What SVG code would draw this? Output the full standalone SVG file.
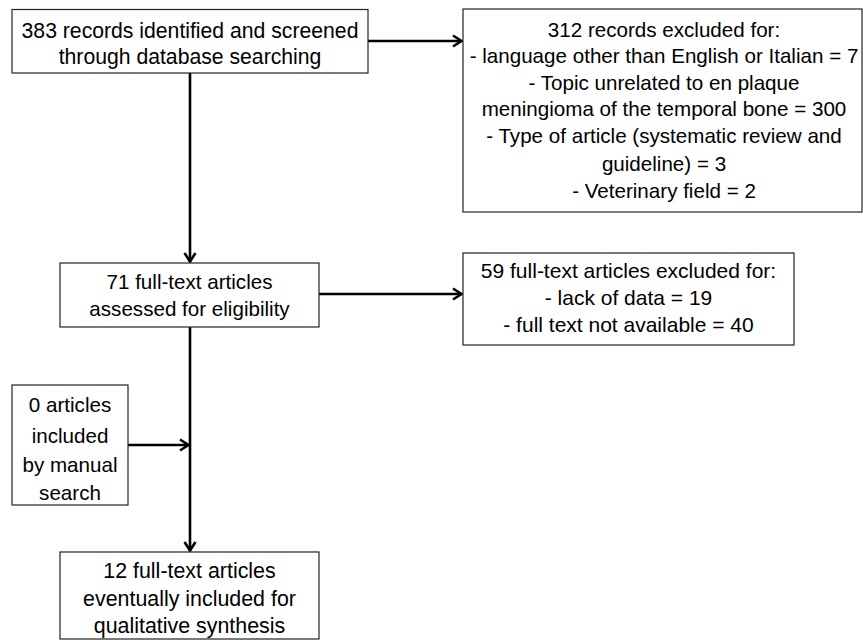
<svg xmlns="http://www.w3.org/2000/svg" width="863" height="640" viewBox="0 0 863 640">
<defs>
<style>
.box{fill:#fff;stroke:#222;stroke-width:1.2}
.t{font-family:"Liberation Sans",Arial,sans-serif;font-size:20.6px;fill:#000;text-anchor:middle}
.c{fill:none;stroke:#000;stroke-width:2.6}
</style>
<marker id="arr" markerUnits="userSpaceOnUse" viewBox="0 0 12 14" refX="11" refY="7" markerWidth="12" markerHeight="14" orient="auto">
<path d="M2,1.5 L10.5,7 L2,12.5" fill="none" stroke="#000" stroke-width="2.6"/>
</marker>
</defs>
<rect width="863" height="640" fill="#fff"/>
<g id="connectors">
<line class="c" x1="190" y1="73" x2="190" y2="262" marker-end="url(#arr)"/>
<line class="c" x1="190" y1="327" x2="190" y2="551" marker-end="url(#arr)"/>
<line class="c" x1="368" y1="41" x2="462" y2="41" marker-end="url(#arr)"/>
<line class="c" x1="319" y1="294" x2="462" y2="294" marker-end="url(#arr)"/>
<line class="c" x1="128" y1="445" x2="189" y2="445" marker-end="url(#arr)"/>
</g>
<g id="identified">
<rect class="box" x="12" y="9.5" width="356" height="63.5"/>
<text class="t" style="font-size:21.2px" x="190" y="38">383 records identified and screened</text>
<text class="t" style="font-size:21.2px" x="190" y="64">through database searching</text>
</g>
<g id="excluded1">
<rect class="box" x="463" y="9" width="399" height="203"/>
<text class="t" x="664" y="37">312 records excluded for:</text>
<text class="t" x="664" y="63">- language other than English or Italian = 7</text>
<text class="t" x="664" y="90">- Topic unrelated to en plaque</text>
<text class="t" x="664" y="116">meningioma of the temporal bone = 300</text>
<text class="t" x="664" y="143">- Type of article (systematic review and</text>
<text class="t" x="664" y="171">guideline) = 3</text>
<text class="t" x="664" y="198">- Veterinary field = 2</text>
</g>
<g id="fulltext">
<rect class="box" x="60" y="263" width="259" height="64"/>
<text class="t" x="189.5" y="289">71 full-text articles</text>
<text class="t" x="189.5" y="316">assessed for eligibility</text>
</g>
<g id="excluded2">
<rect class="box" x="463" y="253" width="331" height="92"/>
<text class="t" style="font-size:21px" x="628.5" y="278">59 full-text articles excluded for:</text>
<text class="t" style="font-size:21px" x="628.5" y="305">- lack of data = 19</text>
<text class="t" style="font-size:21px" x="628.5" y="332">- full text not available = 40</text>
</g>
<g id="manual">
<rect class="box" x="12" y="385" width="116" height="120"/>
<text class="t" x="70" y="412">0 articles</text>
<text class="t" x="70" y="443">included</text>
<text class="t" x="70" y="472">by manual</text>
<text class="t" x="70" y="500">search</text>
</g>
<g id="included">
<rect class="box" x="60" y="552" width="259" height="87"/>
<text class="t" style="font-size:21.4px" x="189.5" y="578">12 full-text articles</text>
<text class="t" style="font-size:21.4px" x="189.5" y="606">eventually included for</text>
<text class="t" style="font-size:21.4px" x="189.5" y="633">qualitative synthesis</text>
</g>
</svg>
